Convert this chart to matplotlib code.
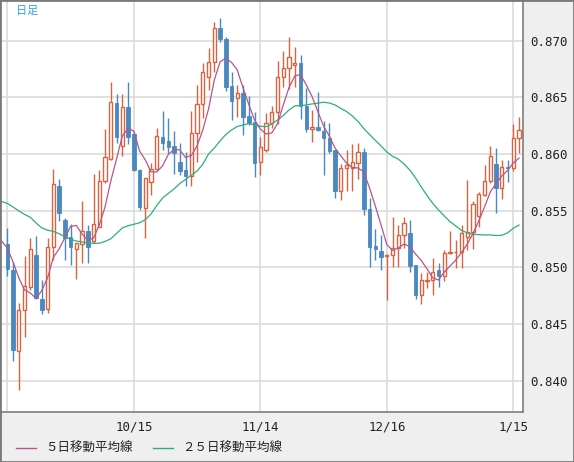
import matplotlib.pyplot as plt
import numpy as np
from matplotlib.lines import Line2D
from matplotlib.patches import Rectangle

# daily candles, oldest first (bar 0 sits on the unlabeled grid line at the left edge)
opens = [0.85206, 0.84977, 0.84265, 0.84622, 0.84830, 0.85109, 0.84721, 0.84630, 0.85177, 0.85718,
         0.85418, 0.85266, 0.85165, 0.85204, 0.85321, 0.85237, 0.85359, 0.85765, 0.85956, 0.86448,
         0.86074, 0.86412, 0.86177, 0.85859, 0.85527, 0.85751, 0.85865, 0.86150, 0.86115, 0.86071,
         0.85927, 0.85859, 0.85809, 0.86183, 0.86439, 0.86677, 0.86809, 0.87109, 0.87015, 0.86600,
         0.86492, 0.86536, 0.86336, 0.86283, 0.85927, 0.86033, 0.86271, 0.86368, 0.86677, 0.86756,
         0.86783, 0.86803, 0.86424, 0.86221, 0.86241, 0.86206, 0.86139, 0.86036, 0.85677, 0.85874,
         0.85874, 0.85925, 0.86015, 0.85511, 0.85189, 0.85145, 0.85101, 0.85109, 0.85169, 0.85283,
         0.85301, 0.85021, 0.84757, 0.84883, 0.84889, 0.84977, 0.84927, 0.85130, 0.85132, 0.85133,
         0.85266, 0.85315, 0.85453, 0.85639, 0.85762, 0.85910, 0.85703, 0.85888, 0.85880, 0.86139]
highs = [0.85350, 0.85048, 0.84683, 0.85101, 0.85259, 0.85277, 0.84889, 0.85257, 0.85868, 0.85780,
         0.85438, 0.85383, 0.85215, 0.85586, 0.85374, 0.85821, 0.85859, 0.86218, 0.86636, 0.86530,
         0.86530, 0.86636, 0.86197, 0.85868, 0.85789, 0.85921, 0.86230, 0.86380, 0.86321, 0.86203,
         0.86095, 0.86021, 0.86380, 0.86609, 0.86803, 0.86931, 0.87165, 0.87200, 0.87030, 0.86724,
         0.86609, 0.86605, 0.86508, 0.86371, 0.86153, 0.86362, 0.86424, 0.86821, 0.86912, 0.87033,
         0.86942, 0.86874, 0.86583, 0.86389, 0.86550, 0.86292, 0.86274, 0.86036, 0.85910, 0.86036,
         0.86086, 0.86093, 0.86049, 0.85608, 0.85339, 0.85286, 0.85118, 0.85442, 0.85374, 0.85447,
         0.85418, 0.85021, 0.84948, 0.84959, 0.85083, 0.85036, 0.85154, 0.85321, 0.85242, 0.85374,
         0.85771, 0.85588, 0.85668, 0.85903, 0.86071, 0.86051, 0.85948, 0.85948, 0.86262, 0.86330]
lows = [0.84924, 0.84174, 0.83918, 0.84389, 0.84801, 0.84724, 0.84589, 0.84600, 0.85065, 0.85409,
        0.85065, 0.85024, 0.84895, 0.85042, 0.85042, 0.85215, 0.85356, 0.85747, 0.85947, 0.86095,
        0.85985, 0.86089, 0.85850, 0.85506, 0.85262, 0.85639, 0.85859, 0.86036, 0.86007, 0.85828,
        0.85815, 0.85718, 0.85721, 0.85932, 0.86318, 0.86565, 0.86724, 0.86991, 0.86556, 0.86300,
        0.86327, 0.86164, 0.86256, 0.85793, 0.85811, 0.86018, 0.86230, 0.86265, 0.86587, 0.86574,
        0.86589, 0.86309, 0.86197, 0.86109, 0.86203, 0.85815, 0.86007, 0.85615, 0.85595, 0.85670,
        0.85670, 0.85780, 0.85462, 0.85006, 0.85065, 0.84977, 0.84712, 0.85006, 0.85006, 0.85169,
        0.84962, 0.84721, 0.84677, 0.84818, 0.84757, 0.84824, 0.84883, 0.85118, 0.84992, 0.84992,
        0.85154, 0.85160, 0.85359, 0.85634, 0.85742, 0.85477, 0.85603, 0.85751, 0.85850, 0.86007]
closes = [0.84983, 0.84271, 0.84622, 0.84836, 0.85162, 0.84733, 0.84624, 0.85177, 0.85733, 0.85477,
          0.85257, 0.85183, 0.85213, 0.85321, 0.85177, 0.85380, 0.85762, 0.85978, 0.86457, 0.86153,
          0.86412, 0.86146, 0.85859, 0.85536, 0.85786, 0.85865, 0.86159, 0.86100, 0.86062, 0.86012,
          0.85853, 0.85809, 0.86183, 0.86439, 0.86721, 0.86809, 0.87109, 0.87012, 0.86594, 0.86471,
          0.86536, 0.86330, 0.86271, 0.85924, 0.86060, 0.86271, 0.86368, 0.86677, 0.86756, 0.86853,
          0.86803, 0.86424, 0.86224, 0.86236, 0.86212, 0.86137, 0.86031, 0.85677, 0.85880, 0.85903,
          0.85927, 0.86015, 0.85511, 0.85183, 0.85158, 0.85094, 0.85105, 0.85169, 0.85283, 0.85389,
          0.85015, 0.84757, 0.84889, 0.84886, 0.84962, 0.84927, 0.85130, 0.85133, 0.85134, 0.85301,
          0.85312, 0.85557, 0.85645, 0.85762, 0.85983, 0.85703, 0.85888, 0.85874, 0.86139, 0.86212]

# moving averages, first point is one bar left of bar 0
ma5 = [0.85233,
       0.85171, 0.85048, 0.84907, 0.84801, 0.84774, 0.84726, 0.84796, 0.84907, 0.85087, 0.85162,
       0.85259, 0.85361, 0.85370, 0.85295, 0.85237, 0.85259, 0.85374, 0.85533, 0.85762, 0.85956,
       0.86159, 0.86225, 0.86203, 0.86027, 0.85948, 0.85842, 0.85842, 0.85895, 0.85996, 0.86040,
       0.86036, 0.85970, 0.85987, 0.86071, 0.86212, 0.86397, 0.86653, 0.86812, 0.86847, 0.86808,
       0.86741, 0.86583, 0.86437, 0.86300, 0.86221, 0.86177, 0.86186, 0.86269, 0.86433, 0.86587,
       0.86689, 0.86702, 0.86609, 0.86508, 0.86375, 0.86247, 0.86159, 0.86053, 0.85983, 0.85921,
       0.85881, 0.85877, 0.85842, 0.85701, 0.85542, 0.85374, 0.85202, 0.85149, 0.85171, 0.85206,
       0.85184, 0.85118, 0.85061, 0.84986, 0.84907, 0.84889, 0.84959, 0.85012, 0.85065, 0.85131,
       0.85206, 0.85299, 0.85409, 0.85533, 0.85665, 0.85740, 0.85806, 0.85855, 0.85921, 0.85965]
ma25 = [0.85581,
        0.85564, 0.85533, 0.85498, 0.85467, 0.85442, 0.85392, 0.85348, 0.85328, 0.85317, 0.85297,
        0.85270, 0.85248, 0.85233, 0.85224, 0.85217, 0.85211, 0.85213, 0.85229, 0.85252, 0.85299,
        0.85348, 0.85367, 0.85380, 0.85393, 0.85421, 0.85471, 0.85546, 0.85612, 0.85652, 0.85692,
        0.85740, 0.85775, 0.85813, 0.85850, 0.85910, 0.86000, 0.86053, 0.86115, 0.86172, 0.86212,
        0.86243, 0.86256, 0.86269, 0.86256, 0.86245, 0.86241, 0.86265, 0.86300, 0.86340, 0.86389,
        0.86424, 0.86428, 0.86433, 0.86442, 0.86449, 0.86457, 0.86450, 0.86433, 0.86402, 0.86375,
        0.86336, 0.86287, 0.86225, 0.86172, 0.86121, 0.86071, 0.86018, 0.85980, 0.85955, 0.85912,
        0.85859, 0.85789, 0.85709, 0.85634, 0.85564, 0.85506, 0.85453, 0.85403, 0.85365, 0.85326,
        0.85305, 0.85292, 0.85289, 0.85286, 0.85286, 0.85281, 0.85283, 0.85304, 0.85345, 0.85374]

date_ticks = [0, 22, 44, 66, 88]
date_labels = ['', '10/15', '11/14', '12/16', '1/15']
price_ticks = [0.840, 0.845, 0.850, 0.855, 0.860, 0.865, 0.870]

UP = '#d9643f'
DOWN = '#4a88c0'
C5 = '#b4578c'
C25 = '#2bb07c'
JP = ['Noto Sans CJK JP', 'DejaVu Sans']

W, H = 574, 462
fig = plt.figure(figsize=(W / 100, H / 100), dpi=100, facecolor='#efefef')
ax = fig.add_axes([1 / W, 50 / H, 522 / W, 411 / H])
ax.set_facecolor('white')

o = np.array(opens)
c = np.array(closes)
hi = np.array(highs)
lo = np.array(lows)
idx = np.arange(len(c))
up = c >= o
dn = ~up

ax.vlines(idx[up], lo[up], hi[up], color=UP, lw=1.0, zorder=3)
ax.vlines(idx[dn], lo[dn], hi[dn], color=DOWN, lw=1.0, zorder=3)
ax.bar(idx[up], (c - o)[up], bottom=o[up], width=0.58, facecolor='white',
       edgecolor=UP, lw=1.0, zorder=4)
ax.bar(idx[dn], (o - c)[dn], bottom=c[dn], width=0.62, facecolor=DOWN,
       edgecolor=DOWN, lw=0.6, zorder=4)

ma_x = np.arange(-1, len(c))
ax.plot(ma_x, ma25, color=C25, lw=0.9, zorder=5)
ax.plot(ma_x, ma5, color=C5, lw=0.9, zorder=6)

ax.set_xlim(-1.096, 89.69)
ax.set_ylim(0.83724, 0.87350)
ax.set_xticks(date_ticks)
ax.set_xticklabels(date_labels, family='DejaVu Sans Mono', fontsize=9, color='#222222')
ax.set_yticks(price_ticks)
ax.set_yticklabels([f'{p:.3f}' for p in price_ticks], family='DejaVu Sans Mono',
                   fontsize=9, color='#222222')
ax.yaxis.tick_right()
ax.tick_params(axis='both', length=0)
ax.tick_params(axis='x', pad=6)
ax.tick_params(axis='y', pad=5)
ax.grid(True, color='#dcdcdc', lw=1.2, zorder=0)
ax.set_axisbelow(True)

for side in ['top', 'left']:
    ax.spines[side].set_visible(False)
for side in ['right', 'bottom']:
    ax.spines[side].set_color('#7d7d7d')
    ax.spines[side].set_linewidth(1.2)

fig.text(16 / W, 1 - 10.5 / H, '日足', color='#2ba7df', fontsize=8, family=JP, va='center')

# legend along the bottom
ly = 1 - 448 / H
fig.add_artist(Line2D([16 / W, 36 / W], [ly, ly], color=C5, lw=1.0))
fig.text(45 / W, ly, '５日移動平均線', fontsize=9, family=JP, va='center', color='#222222')
fig.add_artist(Line2D([153 / W, 173 / W], [ly, ly], color=C25, lw=1.0))
fig.text(182 / W, ly, '２５日移動平均線', fontsize=9, family=JP, va='center', color='#222222')

fig.add_artist(Rectangle((0, 0), 1, 1, transform=fig.transFigure, fill=False,
                         edgecolor='#7a7a7a', lw=2.0))

fig.savefig('out.png', dpi=100, facecolor=fig.get_facecolor())
